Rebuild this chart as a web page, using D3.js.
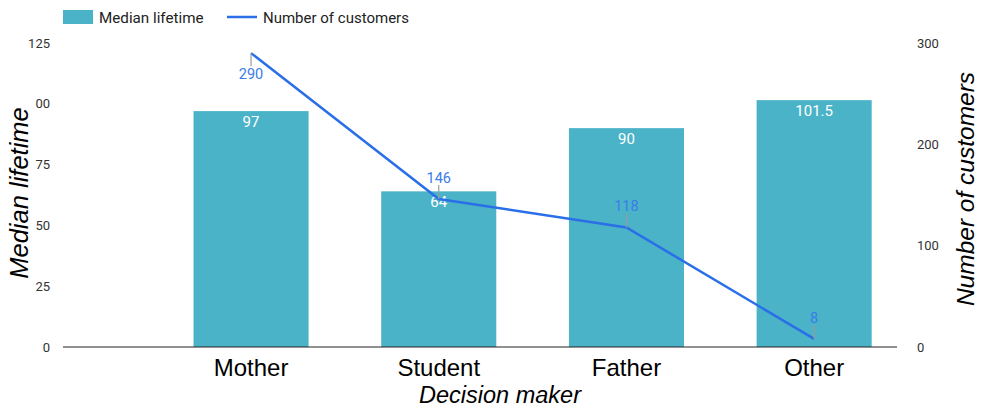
<!DOCTYPE html>
<html>
<head>
<meta charset="utf-8">
<script src="https://cdn.jsdelivr.net/npm/d3@7"></script>
<style>
  html, body { margin: 0; padding: 0; background: #fff; }
  svg { display: block; }
</style>
</head>
<body>
<svg id="chart" width="981" height="409"></svg>
<script>
const categories = ["Mother", "Student", "Father", "Other"];
const medianLifetime = [97, 64, 90, 101.5];
const customers = [290, 146, 118, 8];
const leftTicks = [0, 25, 50, 75, 100, 125];
const leftTickLabels = ["0", "25", "50", "75", "00", "125"];
const rightTicks = [0, 100, 200, 300];
const seriesNames = ["Median lifetime", "Number of customers"];
const xTitle = "Decision maker";
const yLeftTitle = "Median lifetime";
const yRightTitle = "Number of customers";

const barColor = "#4bb3c8";
const lineColor = "#2a6fe8";
const lineLabelColor = "#3a7de8";

const svg = d3.select("#chart");
const plotLeft = 63, plotRight = 897, plotTop = 43, plotBottom = 347;

const x = d3.scaleBand().domain(categories).range([157.2, 908]).paddingInner(0.387).paddingOuter(0.1935);
const yL = d3.scaleLinear().domain([0, 125]).range([plotBottom, plotTop]);
const yR = d3.scaleLinear().domain([0, 300]).range([plotBottom, plotTop]);

// bars
svg.append("g").selectAll("rect").data(categories).join("rect")
  .attr("x", d => x(d))
  .attr("y", (d, i) => yL(medianLifetime[i]))
  .attr("width", x.bandwidth())
  .attr("height", (d, i) => yL(0) - yL(medianLifetime[i]))
  .attr("fill", barColor);

// bar labels
svg.append("g").selectAll("text").data(categories).join("text")
  .attr("x", d => x(d) + x.bandwidth() / 2)
  .attr("y", (d, i) => yL(medianLifetime[i]) + 16)
  .attr("text-anchor", "middle")
  .attr("font-family", "Roboto")
  .attr("font-size", 15)
  .attr("fill", "#fff")
  .text((d, i) => medianLifetime[i]);

// baseline axis
const xAxis = d3.axisBottom(x).tickSize(0).tickPadding(0);
const gx = svg.append("g").attr("transform", `translate(0,${plotBottom})`).call(xAxis);
gx.select(".domain").remove();
gx.selectAll("text")
  .attr("font-family", "Liberation Sans, Arial, sans-serif")
  .attr("font-size", 24)
  .attr("fill", "#000")
  .attr("dy", "1.22em");
svg.append("line")
  .attr("x1", plotLeft).attr("x2", plotRight)
  .attr("y1", plotBottom).attr("y2", plotBottom)
  .attr("stroke", "#222").attr("stroke-width", 1.2);

// left axis
const gl = svg.append("g").attr("transform", `translate(50,0)`)
  .call(d3.axisLeft(yL).tickValues(leftTicks).tickSize(0).tickPadding(0)
    .tickFormat((d, i) => leftTickLabels[i]));
gl.select(".domain").remove();
gl.selectAll("text").attr("font-family", "Roboto").attr("font-size", 13).attr("fill", "#333");

// right axis
const gr = svg.append("g").attr("transform", `translate(917,0)`)
  .call(d3.axisRight(yR).tickValues(rightTicks).tickSize(0).tickPadding(0));
gr.select(".domain").remove();
gr.selectAll("text").attr("font-family", "Roboto").attr("font-size", 13).attr("fill", "#333");

// line
const line = d3.line().x((d, i) => x(categories[i]) + x.bandwidth() / 2).y(d => yR(d));
svg.append("path").datum(customers)
  .attr("d", line)
  .attr("fill", "none")
  .attr("stroke", lineColor)
  .attr("stroke-width", 2.5);

// line labels with connectors
const lbl = svg.append("g");
customers.forEach((v, i) => {
  const cx = x(categories[i]) + x.bandwidth() / 2;
  const py = yR(v);
  const below = v > 0.9 * yR.domain()[1];
  lbl.append("line")
    .attr("x1", cx).attr("x2", cx)
    .attr("y1", below ? py : py - 14)
    .attr("y2", below ? py + 13 : py)
    .attr("stroke", "#9a9a9a").attr("stroke-width", 1.2);
  lbl.append("text")
    .attr("x", cx)
    .attr("y", below ? py + 26 : py - 16)
    .attr("text-anchor", "middle")
    .attr("font-family", "Roboto")
    .attr("font-size", 14.5)
    .attr("fill", lineLabelColor)
    .text(v);
});

// axis titles
svg.append("text")
  .attr("x", 500)
  .attr("y", 403)
  .attr("text-anchor", "middle")
  .attr("font-family", "Liberation Sans, Arial, sans-serif")
  .attr("font-style", "italic")
  .attr("font-size", 23.5)
  .attr("fill", "#000")
  .text(xTitle);

svg.append("text")
  .attr("transform", `translate(28,193) rotate(-90)`)
  .attr("text-anchor", "middle")
  .attr("font-family", "Liberation Sans, Arial, sans-serif")
  .attr("font-style", "italic")
  .attr("font-size", 25.5)
  .attr("fill", "#000")
  .text(yLeftTitle);

svg.append("text")
  .attr("transform", `translate(974,189) rotate(-90)`)
  .attr("text-anchor", "middle")
  .attr("font-family", "Liberation Sans, Arial, sans-serif")
  .attr("font-style", "italic")
  .attr("font-size", 24.5)
  .attr("fill", "#000")
  .text(yRightTitle);

// legend
const lg = svg.append("g");
lg.append("rect").attr("x", 63).attr("y", 10).attr("width", 30).attr("height", 14).attr("fill", barColor);
lg.append("text").attr("x", 99).attr("y", 22.5).attr("font-family", "Roboto").attr("font-size", 15.2).attr("fill", "#222").text(seriesNames[0]);
lg.append("line").attr("x1", 227).attr("x2", 257).attr("y1", 17).attr("y2", 17).attr("stroke", lineColor).attr("stroke-width", 2.5);
lg.append("text").attr("x", 263).attr("y", 22.5).attr("font-family", "Roboto").attr("font-size", 15).attr("fill", "#222").text(seriesNames[1]);
</script>
</body>
</html>
